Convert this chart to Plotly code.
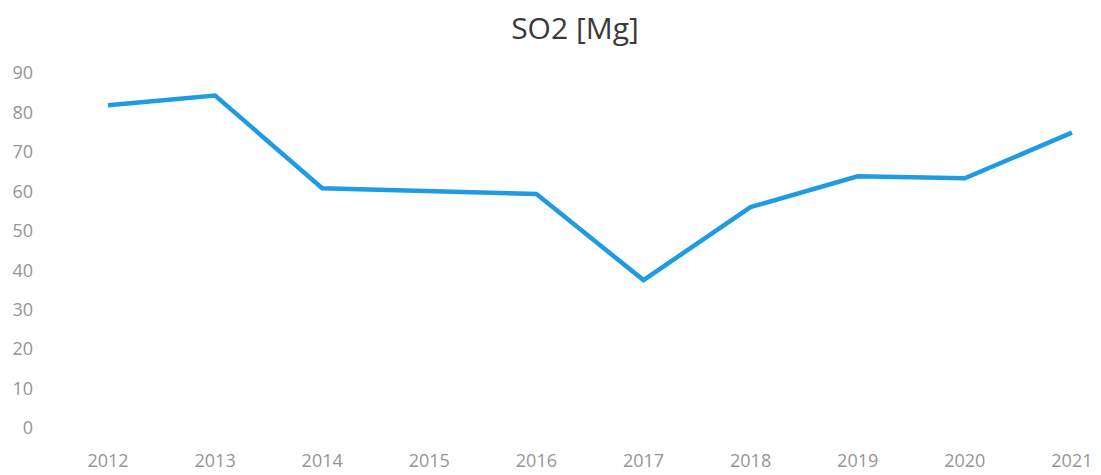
import plotly.graph_objects as go

years = [2012, 2013, 2014, 2015, 2016, 2017, 2018, 2019, 2020, 2021]
so2_mg = [81.8, 84.3, 60.8, 60.0, 59.3, 37.5, 56.0, 63.8, 63.3, 74.9]
y_ticks = [0, 10, 20, 30, 40, 50, 60, 70, 80, 90]
title_text = "SO2 [Mg]"

# the page body adds an 8px offset; compensate so the figure fills the window
OFF = 8
W, H = 1101 - OFF, 475 - OFF
ml, mr, mt, mb = 36 - OFF, 0, 73 - OFF, 47
px_per_year = 107.1
first_px = 108 - OFF
x0 = years[0] - (first_px - ml) / px_per_year
x1 = x0 + (W - ml - mr) / px_per_year

fig = go.Figure()
fig.add_trace(go.Scatter(
    x=years, y=so2_mg, mode="lines",
    line=dict(color="#1f9be4", width=4.5),
    hoverinfo="x+y",
))

FONT = "'Open Sans', Lato, sans-serif"
fig.update_layout(
    width=W, height=H,
    margin=dict(l=ml, r=mr, t=mt, b=mb),
    paper_bgcolor="white", plot_bgcolor="white",
    showlegend=False,
    font=dict(family=FONT, color="#959595", size=18),
    title=dict(text=title_text, x=(575 - OFF) / W, xanchor="center", xref="container",
               y=1 - (28 - OFF) / H, yanchor="middle", yref="container",
               font=dict(size=30, color="#3a3a3a", family=FONT)),
)
fig.update_xaxes(
    range=[x0, x1], tickmode="array", tickvals=years, ticktext=[str(y) for y in years],
    showgrid=False, zeroline=False, showline=False, ticks="",
    ticklabelstandoff=20, tickfont=dict(size=18, color="#959595", family=FONT),
)
fig.update_yaxes(
    range=[0, 90], tickmode="array", tickvals=y_ticks,
    showgrid=False, zeroline=False, showline=False, ticks="",
    ticklabelstandoff=2, tickfont=dict(size=18, color="#959595", family=FONT),
)

fig.write_html("out.html")
